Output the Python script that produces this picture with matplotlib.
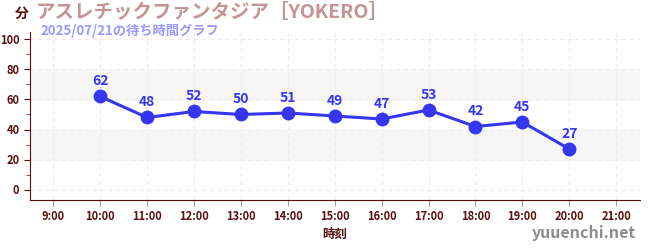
import matplotlib
matplotlib.use("Agg")
from matplotlib import pyplot as plt

plt.rcParams['font.family'] = ['Noto Sans CJK JP', 'DejaVu Sans']

# data
hours = [10, 11, 12, 13, 14, 15, 16, 17, 18, 19, 20]
waits = [62, 48, 52, 50, 51, 49, 47, 53, 42, 45, 27]
tick_hours = list(range(9, 22))
tick_labels = [f"{h}:00" for h in tick_hours]

dark = "#5a0f0f"

fig = plt.figure(figsize=(6.5, 2.5), dpi=100)
ax = fig.add_axes([0.046, 0.2, 0.938, 0.672])

# gray bands
for lo, hi in [(20, 40), (60, 80)]:
    ax.axhspan(lo, hi, color="#f6f6f6", zorder=0)

ax.plot(hours, waits, color="#3636f0", lw=2.2, marker="o", ms=9, zorder=3)
for h, w in zip(hours, waits):
    ax.annotate(str(w), (h, w), xytext=(0, 6), textcoords="offset points",
                ha="center", va="bottom", color="#3636f0",
                fontsize=10, fontweight="bold")

ax.set_xlim(8.5, 21.5)
ax.set_ylim(-7, 105)
ax.set_xticks(tick_hours)
ax.set_xticklabels(tick_labels)
ax.set_yticks(range(0, 101, 20))
ax.set_yticks(range(10, 100, 20), minor=True)

ax.grid(True, which="major", color="#ececec", ls=(0, (4, 3)), lw=0.8)
ax.tick_params(axis="both", which="major", colors=dark, labelsize=8, length=4)
ax.tick_params(axis="y", which="minor", color="#dd0000", length=3)
ax.tick_params(axis="x", colors="#999999", labelcolor=dark)
for lbl in ax.get_xticklabels() + ax.get_yticklabels():
    lbl.set_fontweight("bold")

for s in ["top", "right"]:
    ax.spines[s].set_visible(False)
ax.spines["left"].set_color(dark)
ax.spines["bottom"].set_color(dark)

ax.set_xlabel("時刻", color=dark, fontsize=9, fontweight="bold", labelpad=3)

fig.text(0.023, 0.945, "分", color=dark, fontsize=10, fontweight="bold",
         ha="left", va="center")
fig.text(0.055, 0.95, "アスレチックファンタジア［YOKERO］", color="#c49494",
         fontsize=14, fontweight="bold", ha="left", va="center")
fig.text(0.062, 0.875, "2025/07/21の待ち時間グラフ", color="#9999ff",
         fontsize=9.5, fontweight="bold", ha="left", va="center")
fig.text(0.978, 0.068, "yuuenchi.net", color="#8c8c8c", fontsize=11.5,
         fontweight="bold", ha="right", va="center")

plt.savefig("out.png")
